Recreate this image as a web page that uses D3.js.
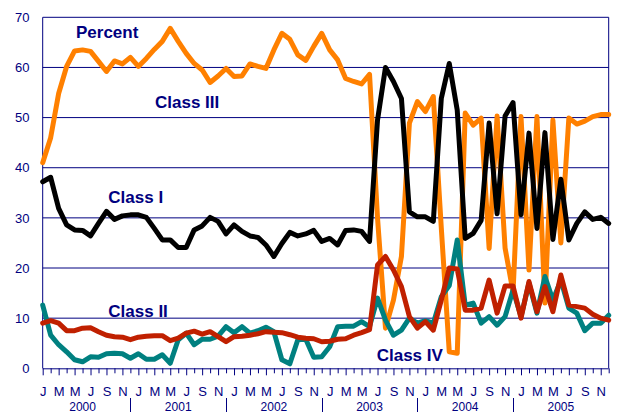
<!DOCTYPE html>
<html>
<head>
<meta charset="utf-8">
<script src="https://cdn.jsdelivr.net/npm/d3@7"></script>
<style>
  html, body { margin: 0; padding: 0; background: #fff; }
  svg { display: block; }
  text { font-family: "Liberation Sans", Arial, sans-serif; }
</style>
</head>
<body>
<svg id="chart" width="619" height="413"></svg>
<script>
// ---- data ----
const monthLetters = ["J","F","M","A","M","J","J","A","S","O","N","D"];
const years = ["2000","2001","2002","2003","2004","2005"];
const yTicks = [0,10,20,30,40,50,60,70];

const classIII = [41.0,46.0,54.8,60.2,63.3,63.5,63.2,61.2,59.2,61.3,60.7,62.0,
  60.2,61.8,63.6,65.2,67.8,65.2,62.8,60.8,59.5,57.0,58.3,59.8,
  58.2,58.3,60.7,60.2,59.8,63.5,66.8,65.6,62.5,61.4,64.2,66.8,
  63.5,61.5,57.8,57.2,56.7,58.6,30.0,8.0,13.6,22.3,48.9,53.2,
  51.2,54.2,28.0,3.3,3.0,50.9,48.5,49.9,23.9,50.3,24.0,15.2,
  50.2,19.6,50.2,13.0,49.5,25.0,49.9,48.7,49.3,50.2,50.6,50.6];

const classI = [37.2,38.1,31.9,28.6,27.6,27.5,26.4,28.9,31.3,29.7,30.4,30.6,
  30.6,30.1,27.9,25.6,25.6,24.1,24.1,27.6,28.4,30.1,29.3,26.8,
  28.6,27.3,26.4,26.1,24.6,22.3,24.9,27.1,26.4,26.8,27.5,25.3,
  25.9,24.6,27.5,27.6,27.3,25.3,49.5,60.0,57.2,53.8,31.2,30.2,
  30.2,29.3,53.8,60.8,51.5,25.9,26.9,29.5,48.9,30.8,50.3,53.0,
  30.6,46.9,27.9,47.0,25.7,37.7,25.6,28.9,31.2,29.7,30.1,28.9];

const classII = [9.0,9.5,9.0,7.5,7.5,8.0,8.1,7.3,6.6,6.3,6.2,5.7,
  6.2,6.4,6.5,6.5,5.5,6.0,7.0,7.4,6.8,7.3,6.3,5.3,
  6.3,6.4,6.6,6.9,7.3,7.2,7.1,6.7,6.2,6.0,5.9,5.3,
  5.4,5.8,5.9,6.6,7.1,7.7,20.6,22.3,19.6,16.3,10.3,8.0,
  9.3,7.6,13.6,20.0,19.8,11.6,11.6,12.0,17.6,11.0,16.4,16.4,
  10.0,17.3,11.3,16.3,11.3,18.6,12.6,12.3,12.0,10.8,10.0,9.6];

const classIV = [12.6,6.6,4.7,3.3,1.7,1.3,2.3,2.2,2.9,3.0,2.9,2.0,
  2.9,1.8,1.8,2.7,1.0,5.7,7.0,4.7,5.8,5.8,6.4,8.3,
  7.1,8.3,7.0,7.5,8.2,7.3,1.7,0.9,5.7,5.8,2.2,2.3,
  4.3,8.3,8.4,8.4,9.3,8.3,14.0,9.6,6.6,7.6,10.0,9.0,
  9.5,9.0,14.3,16.5,25.6,12.6,13.0,9.0,10.3,8.6,10.3,15.6,
  10.3,17.0,11.0,18.3,13.6,17.6,12.0,11.0,7.5,9.0,9.0,10.6];

const seriesNames = ["Class III","Class IV","Class II","Class I"];
const seriesColors = ["#FF8000","#008080","#C02000","#000000"];
const seriesData = [classIII, classIV, classII, classI];

const labelTexts = ["Percent","Class III","Class I","Class II","Class IV"];

// ---- layout ----
const navy = "#000080";
const svg = d3.select("#chart");
const n = classI.length;
const x = d3.scaleLinear().domain([0, n - 1]).range([42.7, 608.7]);
const y = d3.scaleLinear().domain([0, 70]).range([368.3, 17.3]);

// gridlines
svg.append("g").selectAll("line").data(yTicks.filter(d => d > 0)).join("line")
  .attr("x1", x(0)).attr("x2", x(n - 1))
  .attr("y1", d => y(d)).attr("y2", d => y(d))
  .attr("stroke", navy).attr("stroke-width", 1);

// plot border (left, right)
svg.append("line").attr("x1", x(0)).attr("x2", x(0)).attr("y1", y(70)).attr("y2", y(0))
  .attr("stroke", navy).attr("stroke-width", 1);
svg.append("line").attr("x1", x(n - 1)).attr("x2", x(n - 1)).attr("y1", y(70)).attr("y2", y(0))
  .attr("stroke", navy).attr("stroke-width", 1);

// y axis labels
svg.append("g").selectAll("text").data(yTicks).join("text")
  .attr("x", 29.5).attr("y", d => y(d)).attr("dy", "0.36em")
  .attr("text-anchor", "end").attr("font-size", 13).attr("fill", navy)
  .text(d => d);

// x axis with d3 axis
const idx = d3.range(n);
const xAxis = d3.axisBottom(x).tickValues(idx).tickSize(6)
  .tickFormat(i => (i % 2 === 0 ? monthLetters[i % 12] : ""));
const gx = svg.append("g").attr("transform", `translate(0,${y(0)})`).call(xAxis);
gx.select(".domain").attr("stroke", navy).attr("stroke-width", 1).attr("d", `M${x(0)},0.5H${x(n-1)}`);
gx.selectAll(".tick line").attr("stroke", navy)
  .attr("y2", i => (i % 2 === 0 ? 7 : 5));
gx.selectAll(".tick text").attr("fill", navy).attr("font-size", 13)
  .attr("font-family", "Liberation Sans, Arial, sans-serif")
  .attr("y", 27.7).attr("dy", 0);

// year labels and separators
svg.append("g").selectAll("text").data(years).join("text")
  .attr("x", (d, k) => x(12 * k + 5)).attr("y", 410.5)
  .attr("text-anchor", "middle").attr("font-size", 12).attr("fill", navy)
  .text(d => d);
svg.append("g").selectAll("line").data(years.slice(0, -1)).join("line")
  .attr("x1", (d, k) => Math.round(x(12 * k + 11)) + 0.5)
  .attr("x2", (d, k) => Math.round(x(12 * k + 11)) + 0.5)
  .attr("y1", 398).attr("y2", 412)
  .attr("stroke", navy).attr("stroke-width", 1);

// series lines
const line = d3.line().x((d, i) => x(i)).y(d => y(d));
svg.append("g").selectAll("path").data(seriesData).join("path")
  .attr("d", d => line(d))
  .attr("fill", "none")
  .attr("stroke", (d, k) => seriesColors[k])
  .attr("stroke-width", 5)
  .attr("stroke-linejoin", "round")
  .attr("stroke-linecap", "round");

// annotations
const labelPos = [[76, 37.5], [155, 108], [108.3, 202.7], [108.3, 316.7], [376.7, 360.7]];
svg.append("g").selectAll("text").data(labelTexts).join("text")
  .attr("x", (d, k) => labelPos[k][0]).attr("y", (d, k) => labelPos[k][1])
  .attr("font-size", 17).attr("font-weight", "bold").attr("fill", navy)
  .text(d => d);
</script>
</body>
</html>
